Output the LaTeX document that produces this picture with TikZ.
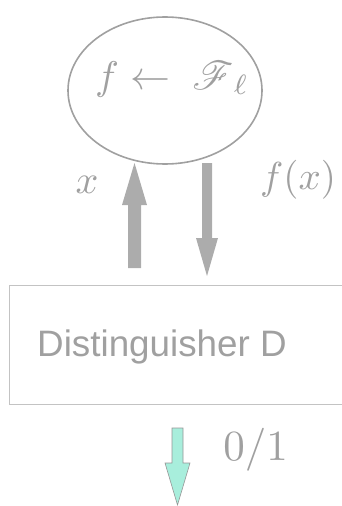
\documentclass[tikz,border=0pt]{standalone}
\usepackage{graphicx}
\usepackage{mathrsfs}
\usepackage{fontspec}
\newfontfamily\labelsans{Liberation Sans}
\usetikzlibrary{shapes.geometric}
\definecolor{inkgray}{RGB}{160,160,160}
\definecolor{linegray}{RGB}{160,160,160}
\definecolor{boxgray}{RGB}{195,195,195}
\definecolor{arrowgray}{RGB}{172,172,172}
\definecolor{mint}{RGB}{168,238,220}
\definecolor{mintedge}{RGB}{150,150,150}
\newcommand{\scaledmath}[2]{\scalebox{#1}{$#2$}}
\tikzset{
  oracle/.style={draw=linegray, line width=1.6pt, ellipse, inner sep=0pt},
  plainlabel/.style={text=inkgray, inner sep=0pt, anchor=base},
  boxframe/.style={draw=boxgray, line width=1.2pt, inner sep=0pt, anchor=north west},
  sanslabel/.style={text=inkgray, inner sep=0pt, anchor=base, font=\labelsans\fontsize{36.8}{42}\selectfont},
  grayarrow/.style={fill=arrowgray},
  mintarrow/.style={fill=mint, draw=mintedge, line width=0.6pt, line join=miter},
}
\begin{document}
\begin{tikzpicture}[x=1pt,y=-1pt]
\useasboundingbox (0,0) rectangle (341,506);
% oracle
\node[oracle, minimum width=194pt, minimum height=147pt] (O) at (165,90.5) {};
\node[plainlabel] (Otext) at (172,89) {\scaledmath{4.0}{f \leftarrow\; \mathscr{F}_{\,\ell}}};
% distinguisher box
\node[boxframe, minimum width=340pt, minimum height=119pt] (D) at (9,285) {};
\node[sanslabel] (Dtext) at (162,356) {Distinguisher D};
% arrow ends
\coordinate (xtail) at (134.5,268);
\coordinate (xtip) at (134.5,163);
\coordinate (ftail) at (207,163);
\coordinate (ftip) at (207,276);
\coordinate (otail) at (177.5,428);
\coordinate (otip) at (177.5,505);
% x arrow (up)
\fill[grayarrow] ([xshift=-6.5pt]xtail) -- ([xshift=-6.5pt]xtail |- 0,205) -- ([xshift=-12.5pt]xtail |- 0,205)
  -- (xtip) -- ([xshift=12.5pt]xtail |- 0,205) -- ([xshift=6.5pt]xtail |- 0,205) -- ([xshift=6.5pt]xtail) -- cycle;
% f(x) arrow (down)
\fill[grayarrow] ([xshift=-5pt]ftail) -- ([xshift=-5pt]ftail |- 0,238) -- ([xshift=-11pt]ftail |- 0,238)
  -- (ftip) -- ([xshift=11pt]ftail |- 0,238) -- ([xshift=5pt]ftail |- 0,238) -- ([xshift=5pt]ftail) -- cycle;
% output arrow
\draw[mintarrow] ([xshift=-5.5pt]otail) -- ([xshift=-5.5pt]otail |- 0,463) -- ([xshift=-12.5pt]otail |- 0,463)
  -- (otip) -- ([xshift=12.5pt]otail |- 0,463) -- ([xshift=5.5pt]otail |- 0,463) -- ([xshift=5.5pt]otail) -- cycle;
% labels
\node[plainlabel] (xl) at (87,193) {\scaledmath{4.0}{x}};
\node[plainlabel] (fl) at (298,189) {\scaledmath{3.9}{f(x)}};
\node[plainlabel] (ol) at (255.5,460) {\scaledmath{4.3}{0/1}};
\end{tikzpicture}
\end{document}
